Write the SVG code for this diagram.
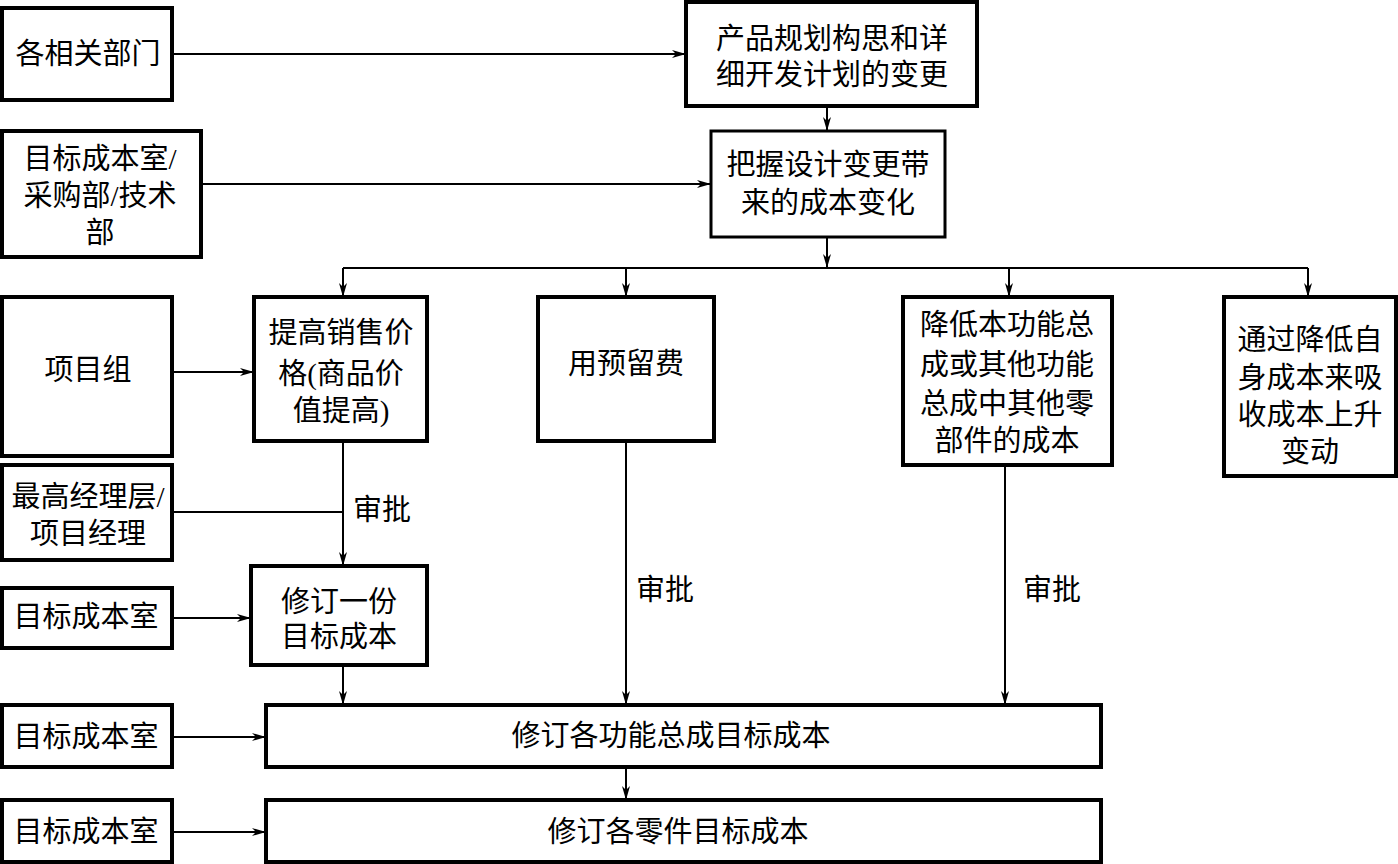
<svg xmlns="http://www.w3.org/2000/svg" width="1398" height="864" viewBox="0 0 1398 864">
<defs>
<marker id="ah" viewBox="0 0 14 8" refX="14" refY="4" markerWidth="14" markerHeight="8" markerUnits="userSpaceOnUse" orient="auto">
<path d="M0,0 L14,4 L0,8 L4,4 z" fill="#000"/>
</marker>
<style>
.box{fill:#fff;stroke:#000;stroke-width:4}
.t{font-family:"Liberation Serif","Noto Sans CJK SC",serif;font-size:29px;fill:#000;text-anchor:middle;dominant-baseline:central}
.c{fill:none;stroke:#000;stroke-width:2}
.a{marker-end:url(#ah)}
</style>
</defs>
<rect width="1398" height="864" fill="#fff"/>
<g id="connectors">
<path class="c a" d="M172,54 H686"/>
<path class="c a" d="M201,184 H711"/>
<path class="c a" d="M827,106 V131"/>
<path class="c a" d="M827,237 V268"/>
<path class="c" d="M343,268 H1308"/>
<path class="c a" d="M343,268 V297"/>
<path class="c a" d="M626,268 V297"/>
<path class="c a" d="M1009,268 V297"/>
<path class="c a" d="M1308,268 V297"/>
<path class="c a" d="M172,372 H254"/>
<path class="c" d="M172,512 H343"/>
<path class="c a" d="M343,441 V566"/>
<path class="c a" d="M172,618 H251"/>
<path class="c a" d="M343,665 V705"/>
<path class="c a" d="M626,441 V705"/>
<path class="c a" d="M1005,465 V705"/>
<path class="c a" d="M172,737 H266"/>
<path class="c a" d="M626,767 V800"/>
<path class="c a" d="M172,832 H266"/>
<text class="t" x="382" y="510">审批</text>
<text class="t" x="665" y="590">审批</text>
<text class="t" x="1052" y="590">审批</text>
</g>
<g id="n1"><rect class="box" x="2" y="8" width="170" height="92"/><text class="t" x="88" y="54">各相关部门</text></g>
<g id="n2"><rect class="box" x="686" y="2" width="291" height="104"/><text class="t" x="832" y="39">产品规划构思和详</text><text class="t" x="832" y="75">细开发计划的变更</text></g>
<g id="n3"><rect class="box" x="2" y="131" width="199" height="126"/><text class="t" x="100" y="159">目标成本室/</text><text class="t" x="100" y="196">采购部/技术</text><text class="t" x="100" y="233">部</text></g>
<g id="n4"><rect class="box" x="711" y="131" width="234" height="106" style="stroke-width:3"/><text class="t" x="828" y="165">把握设计变更带</text><text class="t" x="828" y="203">来的成本变化</text></g>
<g id="n5"><rect class="box" x="2" y="297" width="170" height="159"/><text class="t" x="88" y="370">项目组</text></g>
<g id="n6"><rect class="box" x="254" y="297" width="173" height="144"/><text class="t" x="341" y="333">提高销售价</text><text class="t" x="341" y="374">格(商品价</text><text class="t" x="341" y="411">值提高)</text></g>
<g id="n7"><rect class="box" x="538" y="297" width="176" height="144"/><text class="t" x="626" y="364">用预留费</text></g>
<g id="n8"><rect class="box" x="903" y="297" width="209" height="168"/><text class="t" x="1007" y="325">降低本功能总</text><text class="t" x="1007" y="365">成或其他功能</text><text class="t" x="1007" y="404">总成中其他零</text><text class="t" x="1007" y="441">部件的成本</text></g>
<g id="n9"><rect class="box" x="1224" y="297" width="172" height="179"/><text class="t" x="1310" y="340">通过降低自</text><text class="t" x="1310" y="378">身成本来吸</text><text class="t" x="1310" y="415">收成本上升</text><text class="t" x="1310" y="452">变动</text></g>
<g id="n10"><rect class="box" x="2" y="465" width="170" height="95"/><text class="t" x="88" y="497">最高经理层/</text><text class="t" x="88" y="534">项目经理</text></g>
<g id="n11"><rect class="box" x="2" y="588" width="170" height="60"/><text class="t" x="86" y="617">目标成本室</text></g>
<g id="n12"><rect class="box" x="251" y="566" width="176" height="99"/><text class="t" x="339" y="602">修订一份</text><text class="t" x="339" y="637">目标成本</text></g>
<g id="n13"><rect class="box" x="2" y="705" width="170" height="62"/><text class="t" x="86" y="737">目标成本室</text></g>
<g id="n14"><rect class="box" x="266" y="705" width="835" height="62"/><text class="t" x="671" y="736">修订各功能总成目标成本</text></g>
<g id="n15"><rect class="box" x="2" y="800" width="170" height="62"/><text class="t" x="86" y="832">目标成本室</text></g>
<g id="n16"><rect class="box" x="266" y="800" width="835" height="62"/><text class="t" x="678" y="832">修订各零件目标成本</text></g>
</svg>
